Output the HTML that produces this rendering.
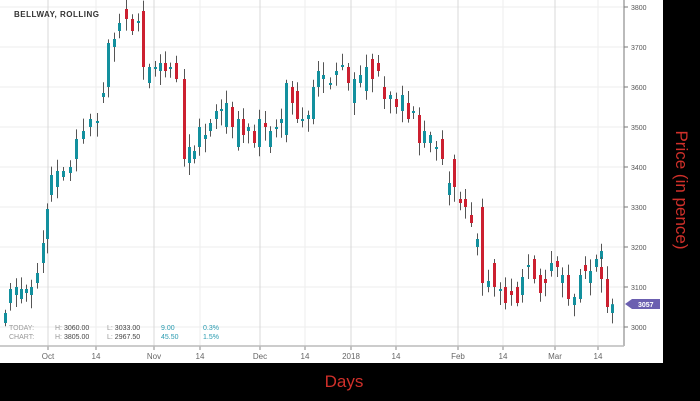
<!DOCTYPE html>
<html><head><meta charset="utf-8"><style>
html,body{margin:0;padding:0;background:#000;width:700px;height:401px;overflow:hidden}
svg{display:block}
text{font-family:"Liberation Sans",sans-serif}
</style></head><body>
<svg id="s" width="700" height="401" xmlns="http://www.w3.org/2000/svg">
<rect x="0" y="0" width="663" height="363" fill="#fff"/>
<g id="grid"></g>
<line x1="624" y1="0" x2="624" y2="346" stroke="#777" stroke-width="1"/>
<line x1="0" y1="346" x2="624" y2="346" stroke="#bbb" stroke-width="1.5"/>
<g id="c"></g>
<text x="14" y="17" font-size="8" font-weight="bold" fill="#333" letter-spacing="0.5">BELLWAY, ROLLING</text>
<g font-size="7" fill="#999">
<text x="9" y="330">TODAY:</text><text x="9" y="339">CHART:</text>
<text x="55" y="330">H: <tspan fill="#444">3060.00</tspan></text>
<text x="107" y="330">L: <tspan fill="#444">3033.00</tspan></text>
<text x="55" y="339">H: <tspan fill="#444">3805.00</tspan></text>
<text x="107" y="339">L: <tspan fill="#444">2967.50</tspan></text>
<text x="161" y="330" fill="#2a9bb0">9.00</text><text x="203" y="330" fill="#2a9bb0">0.3%</text>
<text x="161" y="339" fill="#2a9bb0">45.50</text><text x="203" y="339" fill="#2a9bb0">1.5%</text>
</g>
<polygon points="625,304 632,299 660,299 660,309 632,309" fill="#6b5fb0"/>
<text x="638" y="307" font-size="7" font-weight="bold" fill="#fff">3057</text>
<text x="344" y="387" font-size="17" fill="#d0302a" text-anchor="middle">Days</text>
<text transform="translate(676,190) rotate(90)" font-size="17" fill="#d0302a" text-anchor="middle">Price (in pence)</text>
</svg>
<script>
var NS="http://www.w3.org/2000/svg";
function el(p,t,a){var e=document.createElementNS(NS,t);for(var k in a)e.setAttribute(k,a[k]);p.appendChild(e);return e}
function Y(p){return 7+(3800-p)*0.4}
var g=document.getElementById('grid');
for(var p=3000;p<=3800;p+=100){el(g,'line',{x1:0,x2:624,y1:Y(p),y2:Y(p),stroke:'#eee'});
 el(g,'line',{x1:624,x2:628,y1:Y(p),y2:Y(p),stroke:'#777'});
 var t=el(g,'text',{x:631,y:Y(p)+3,'font-size':7,fill:'#555'});t.textContent=p;}
var xs=[[48,'Oct',1],[96,'14',0],[154,'Nov',1],[200,'14',0],[260,'Dec',1],[305,'14',0],[351,'2018',1],[396,'14',0],[458,'Feb',1],[503,'14',0],[555,'Mar',1],[598,'14',0]];
xs.forEach(function(a){el(g,'line',{x1:a[0],x2:a[0],y1:0,y2:346,stroke:a[2]?'#d8d8d8':'#eee'});
 el(g,'line',{x1:a[0],x2:a[0],y1:346,y2:350,stroke:'#888'});
 var t=el(g,'text',{x:a[0],y:359,'font-size':8,fill:'#666','text-anchor':'middle'});t.textContent=a[1];});
var d=[[5,3010,3035],[10,3060,3095],[16,3080,3100],[21,3070,3095],[26,3085,3095],[31,3080,3100],[37,3110,3135],[43,3160,3210],[47,3220,3295],[51,3330,3380],[57,3350,3390],[63,3375,3390],[70,3385,3400],[76,3420,3470],[83,3470,3490],[90,3500,3520],[97,3510,3515],[103,3575,3585],[108,3600,3710],[114,3700,3720],[119,3740,3760],[126,3795,3770],[132,3770,3740],[138,3760,3765],[143,3790,3650],[149,3610,3650],[155,3650,3650],[160,3640,3660],[165,3660,3640],[170,3650,3650],[176,3660,3620],[184,3620,3420],[189,3410,3450],[194,3420,3440],[199,3450,3500],[205,3470,3480],[210,3490,3510],[216,3520,3540],[221,3540,3545],[226,3500,3560],[232,3550,3500],[238,3450,3520],[243,3520,3480],[248,3490,3500],[254,3490,3460],[259,3450,3520],[265,3510,3500],[270,3450,3490],[276,3500,3500],[281,3510,3520],[286,3480,3610],[292,3600,3560],[297,3590,3520],[302,3520,3520],[308,3520,3530],[313,3520,3600],[318,3600,3640],[323,3620,3630],[330,3610,3610],[336,3630,3640],[342,3650,3655],[348,3650,3610],[354,3560,3620],[360,3610,3630],[366,3590,3650],[372,3670,3620],[378,3660,3640],[384,3600,3570],[390,3570,3580],[396,3570,3550],[402,3540,3580],[408,3560,3520],[413,3540,3540],[419,3530,3460],[424,3460,3490],[430,3460,3480],[436,3450,3450],[442,3470,3420],[449,3330,3360],[454,3420,3350],[460,3320,3310],[465,3320,3300],[471,3280,3260],[477,3200,3220],[482,3300,3110],[488,3100,3115],[494,3160,3100],[500,3090,3095],[505,3100,3060],[511,3090,3080],[517,3100,3060],[522,3080,3125],[528,3150,3155],[534,3170,3120],[540,3130,3085],[545,3120,3110],[551,3140,3160],[557,3165,3150],[562,3110,3130],[568,3130,3070],[574,3055,3075],[580,3070,3130],[585,3155,3140],[590,3110,3140],[596,3150,3170],[601,3170,3190],[607,3205,3160],[612,3170,3140],[618,3120,3130]];
// shift last points to match
d[d.length-3]=[601,3150,3120];d[d.length-2]=[607,3120,3050];d[d.length-1]=[612,3035,3057];
var c=document.getElementById('c');
d.forEach(function(a,i){var o=a[1],cl=a[2],hi=Math.max(o,cl)+8+(i*7)%25,lo=Math.min(o,cl)-8-(i*11)%30;
 el(c,'line',{x1:a[0]+0.5,x2:a[0]+0.5,y1:Y(hi),y2:Y(lo),stroke:'#555','stroke-width':1});
 var top=Y(Math.max(o,cl)),h=Math.max(2,Math.abs(o-cl)*0.4);
 el(c,'rect',{x:a[0]-1,y:top,width:3,height:h,fill:cl>=o?'#13909e':'#cc2030'});});
</script>
</body></html>
